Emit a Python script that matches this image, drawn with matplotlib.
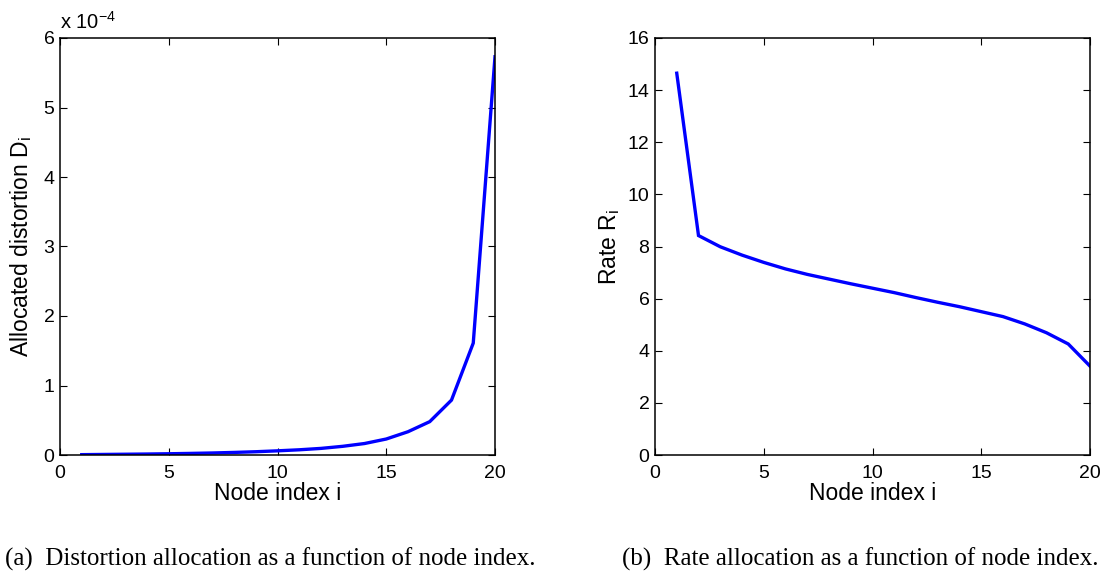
import matplotlib
matplotlib.use("Agg")
import matplotlib.pyplot as plt
from matplotlib.ticker import FuncFormatter, MultipleLocator

plt.rcParams['font.family'] = ['Liberation Sans', 'DejaVu Sans']
plt.rcParams['mathtext.fontset'] = 'custom'
plt.rcParams['mathtext.rm'] = 'Liberation Sans'
plt.rcParams['mathtext.it'] = 'Liberation Sans'

# Node indices
node_index = list(range(1, 21))

# Allocated distortion per node
distortion = [0.005e-4, 0.008e-4, 0.011e-4, 0.014e-4, 0.018e-4, 0.023e-4, 0.029e-4,
              0.037e-4, 0.047e-4, 0.06e-4, 0.075e-4, 0.095e-4, 0.125e-4, 0.165e-4,
              0.23e-4, 0.335e-4, 0.48e-4, 0.79e-4, 1.61e-4, 5.73e-4]

# Rate allocated to each node
rate = [14.65, 8.42, 7.99, 7.67, 7.39, 7.14, 6.93, 6.75, 6.57, 6.40,
        6.23, 6.04, 5.86, 5.69, 5.50, 5.31, 5.03, 4.69, 4.26, 3.41]

W, H = 1103, 575
fig = plt.figure(figsize=(W / 100, H / 100), dpi=100)

tick_fs = 14
label_fs = 16.5
line_color = '#0000ff'


def style_axes(ax):
    ax.tick_params(direction='in', length=5, width=0.8, top=True, right=True,
                   labelsize=tick_fs, colors='black')
    ax.tick_params(axis='x', pad=7)
    ax.tick_params(axis='y', pad=4)
    for s in ax.spines.values():
        s.set_linewidth(1.1)


ax1 = fig.add_axes([60 / W, (H - 455) / H, 435 / W, 417 / H])
ax1.plot(node_index, distortion, color=line_color, lw=2.4, solid_joinstyle='miter')
ax1.set_xlim(0, 20)
ax1.set_ylim(0, 6e-4)
ax1.xaxis.set_major_locator(MultipleLocator(5))
ax1.yaxis.set_major_locator(MultipleLocator(1e-4))
ax1.yaxis.set_major_formatter(FuncFormatter(lambda v, p: f"{v / 1e-4:.0f}"))
style_axes(ax1)
ax1.set_xlabel("Node index i", fontsize=label_fs, labelpad=0)
ax1.set_ylabel(r"Allocated distortion D$_{\mathregular{i}}$", fontsize=label_fs, labelpad=7)
ax1.text(0.0, 1.012, r"x 10$^{\mathregular{-4}}$", transform=ax1.transAxes,
         fontsize=14.5, ha='left', va='bottom')

ax2 = fig.add_axes([655 / W, (H - 455) / H, 435 / W, 417 / H])
ax2.plot(node_index, rate, color=line_color, lw=2.4, solid_joinstyle='miter')
ax2.set_xlim(0, 20)
ax2.set_ylim(0, 16)
ax2.xaxis.set_major_locator(MultipleLocator(5))
ax2.yaxis.set_major_locator(MultipleLocator(2))
style_axes(ax2)
ax2.set_xlabel("Node index i", fontsize=label_fs, labelpad=0)
ax2.set_ylabel(r"Rate R$_{\mathregular{i}}$", fontsize=label_fs, labelpad=4)

cap_kw = dict(fontsize=18, family=['Liberation Serif', 'DejaVu Serif'], va='baseline', ha='left')
fig.text(5 / W, 1 - 566 / H, "(a)  Distortion allocation as a function of node index.", **cap_kw)
fig.text(622 / W, 1 - 566 / H, "(b)  Rate allocation as a function of node index.", **cap_kw)

fig.savefig("out.png", dpi=100)
